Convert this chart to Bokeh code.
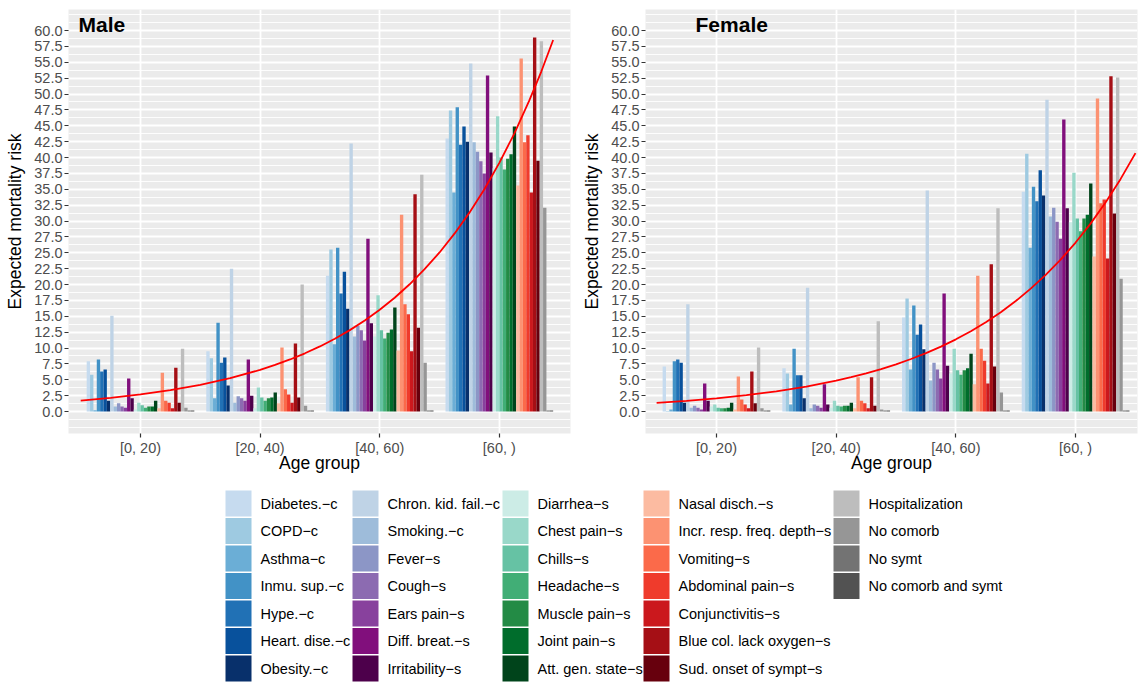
from bokeh.plotting import figure
from bokeh.models import FixedTicker, Range1d, ColumnDataSource
from bokeh.layouts import column, row
from bokeh.embed import file_html
from bokeh.resources import INLINE
from bokeh.core.properties import value

FONT = "Liberation Sans"

age_groups = ["[0, 20)", "[20, 40)", "[40, 60)", "[60, )"]

categories = [
    "Diabetes.−c", "COPD−c", "Asthma−c", "Inmu. sup.−c", "Hype.−c", "Heart. dise.−c", "Obesity.−c",
    "Chron. kid. fail.−c", "Smoking.−c", "Fever−s", "Cough−s", "Ears pain−s", "Diff. breat.−s", "Irritability−s",
    "Diarrhea−s", "Chest pain−s", "Chills−s", "Headache−s", "Muscle pain−s", "Joint pain−s", "Att. gen. state−s",
    "Nasal disch.−s", "Incr. resp. freq. depth−s", "Vomiting−s", "Abdominal pain−s", "Conjunctivitis−s",
    "Blue col. lack oxygen−s", "Sud. onset of sympt−s",
    "Hospitalization", "No comorb", "No symt", "No comorb and symt",
]

colors = [
    "#c6dbef", "#9ecae1", "#6baed6", "#4292c6", "#2171b5", "#08519c", "#08306b",
    "#bfd3e6", "#9ebcda", "#8c96c6", "#8c6bb1", "#88419d", "#810f7c", "#4d004b",
    "#ccece6", "#99d8c9", "#66c2a4", "#41ae76", "#238b45", "#006d2c", "#00441b",
    "#fcbba1", "#fc9272", "#fb6a4a", "#ef3b2c", "#cb181d", "#a50f15", "#67000d",
    "#bdbdbd", "#969696", "#737373", "#525252",
]

# Male expected mortality risk, one list per age group (order = categories)
male_0_20 = [7.9, 5.8, 0.2, 8.2, 6.3, 6.6, 1.7, 15.1, 0.8, 1.3, 0.8, 0.6, 5.2, 2.1,
             0.3, 1.4, 1.0, 0.6, 0.8, 0.8, 1.7, 0.5, 6.1, 1.7, 1.4, 0.5, 6.9, 1.4,
             9.9, 0.6, 0.15, 0.15]
male_20_40 = [9.5, 8.4, 2.1, 14.0, 7.7, 8.5, 4.1, 22.5, 1.4, 2.4, 2.1, 1.7, 8.2, 2.5,
              0.5, 3.8, 2.2, 1.7, 2.1, 2.2, 3.0, 1.3, 10.1, 3.5, 2.7, 1.4, 10.7, 2.2,
              20.0, 0.9, 0.15, 0.15]
male_40_60 = [21.4, 25.5, 10.6, 25.8, 18.6, 22.0, 16.2, 42.2, 11.8, 13.5, 12.8, 11.2, 27.2, 13.9,
              11.8, 18.3, 12.8, 11.5, 12.4, 12.9, 16.4, 9.6, 31.0, 16.9, 15.3, 9.5, 34.2, 13.2,
              37.3, 7.7, 0.15, 0.15]
male_60 = [43.0, 47.4, 34.5, 47.9, 42.0, 44.9, 42.5, 54.8, 42.4, 40.9, 39.4, 37.5, 52.9, 40.8,
           38.3, 46.5, 40.0, 38.1, 39.8, 40.5, 44.9, 35.6, 55.6, 42.4, 43.5, 34.5, 58.9, 39.5,
           58.3, 32.1, 0.15, 0.15]

# Female
female_0_20 = [7.1, 0.1, 0.3, 7.9, 8.2, 7.7, 1.4, 16.9, 0.6, 0.9, 0.6, 0.3, 4.4, 1.7,
               0.8, 1.1, 0.6, 0.5, 0.5, 0.6, 1.4, 0.3, 5.5, 1.9, 1.1, 0.5, 6.3, 1.3,
               10.1, 0.5, 0.15, 0.15]
female_20_40 = [6.8, 6.0, 1.1, 9.9, 5.7, 5.7, 2.1, 19.5, 0.5, 1.1, 0.9, 0.6, 4.3, 1.1,
                0.6, 1.7, 0.9, 0.8, 0.9, 0.9, 1.4, 0.5, 5.4, 1.7, 1.3, 0.5, 5.4, 0.9,
                14.2, 0.3, 0.15, 0.15]
female_40_60 = [14.8, 17.8, 6.6, 16.7, 12.1, 13.7, 9.8, 34.8, 4.9, 7.7, 6.6, 5.2, 18.6, 7.2,
                6.0, 9.9, 6.5, 5.8, 6.5, 6.8, 9.1, 4.3, 21.4, 9.9, 8.0, 4.4, 23.2, 7.1,
                32.0, 3.0, 0.15, 0.15]
female_60 = [34.6, 40.6, 25.8, 35.4, 33.1, 38.0, 34.0, 49.1, 30.7, 32.1, 29.9, 27.2, 46.0, 32.0,
             29.8, 37.6, 30.4, 28.4, 30.4, 31.0, 35.9, 24.4, 49.3, 32.8, 33.4, 24.1, 52.8, 31.2,
             52.6, 20.9, 0.15, 0.15]

# Red trend curves
male_curve_x = [0.5, 0.75, 1.0, 1.25, 1.5, 1.75, 2.0, 2.125, 2.25, 2.375, 2.5, 2.625, 2.75, 2.875,
                3.0, 3.125, 3.25, 3.375, 3.5, 3.625, 3.75, 3.875, 4.0, 4.125, 4.25, 4.35, 4.45]
male_curve = [1.72, 2.15, 2.69, 3.36, 4.20, 5.25, 6.56, 7.34, 8.20, 9.17, 10.25, 11.47, 12.82, 14.34,
              16.03, 17.92, 20.04, 22.41, 25.05, 28.01, 31.32, 35.01, 39.16, 43.77, 48.95, 53.5, 58.5]
female_curve_x = [0.5, 0.75, 1.0, 1.25, 1.5, 1.75, 2.0, 2.125, 2.25, 2.375, 2.5, 2.625, 2.75, 2.875,
                  3.0, 3.125, 3.25, 3.375, 3.5, 3.625, 3.75, 3.875, 4.0, 4.125, 4.25, 4.375, 4.5]
female_curve = [1.36, 1.68, 2.08, 2.57, 3.18, 3.93, 4.86, 5.41, 6.01, 6.69, 7.44, 8.27, 9.20, 10.23,
                11.37, 12.65, 14.07, 15.64, 17.40, 19.35, 21.52, 23.93, 26.61, 29.59, 32.91, 36.59, 40.70]

y_ticks = [i * 2.5 for i in range(25)]
y_minor = [-2.5, -1.25] + [1.25 + i * 2.5 for i in range(25)] + [62.5]

DODGE = 0.9
NB = len(categories)
BW = DODGE / NB
TOP_H = 482


def make_panel(groups_vals, title, cx, cy, title_x, x_start, x_end, width, border_right):
    xs, tops, cols = [], [], []
    for g, vals in enumerate(groups_vals):
        for i, v in enumerate(vals):
            xs.append(g + 1 - DODGE / 2 + (i + 0.5) * BW)
            tops.append(v)
            cols.append(colors[i])
    src = ColumnDataSource(dict(x=xs, top=tops, color=cols))
    p = figure(width=width, height=TOP_H, output_backend="svg", toolbar_location=None,
               x_range=Range1d(x_start, x_end), y_range=Range1d(-3.46, 63.31),
               min_border_left=68, min_border_right=border_right, min_border_top=9,
               min_border_bottom=TOP_H - 433)
    p.background_fill_color = "#EBEBEB"
    p.border_fill_color = "white"
    p.outline_line_color = None

    p.vbar(x="x", top="top", bottom=0, width=BW, fill_color="color", line_color=None, source=src)
    p.line(cx, cy, line_color="#FF0000", line_width=1.8)
    p.text(x=[title_x], y=[60.94], text=[title], text_font=value(FONT), text_font_style="bold",
           text_font_size="21px", text_color="black", text_align="left", text_baseline="alphabetic")

    # y axis
    p.yaxis.ticker = FixedTicker(ticks=y_ticks, minor_ticks=y_minor)
    p.yaxis.major_label_overrides = {t: f"{t:.1f}" for t in y_ticks}
    p.yaxis.axis_label = "Expected mortality risk"
    # x axis
    p.xaxis.ticker = FixedTicker(ticks=[1, 2, 3, 4], minor_ticks=[])
    p.xaxis.major_label_overrides = {i + 1: lab for i, lab in enumerate(age_groups)}
    p.xaxis.axis_label = "Age group"

    for ax in (p.xaxis, p.yaxis):
        ax.axis_line_color = None
        ax.major_tick_line_color = "#333333"
        ax.major_tick_line_width = 1.2
        ax.major_tick_in = 0
        ax.major_tick_out = 4
        ax.minor_tick_line_color = None
        ax.major_label_text_font = FONT
        ax.major_label_text_font_size = "14.5px"
        ax.major_label_text_color = "#4D4D4D"
        ax.major_label_standoff = 2
        ax.axis_label_text_font = FONT
        ax.axis_label_text_font_size = "17.5px"
        ax.axis_label_text_font_style = "normal"
        ax.axis_label_text_color = "black"
    p.yaxis.axis_label_standoff = 6
    p.xaxis.major_label_standoff = 2
    p.xaxis.axis_label_standoff = -6

    p.ygrid.grid_line_color = "white"
    p.ygrid.grid_line_width = 1.8
    p.ygrid.minor_grid_line_color = "white"
    p.ygrid.minor_grid_line_width = 0.9
    p.xgrid.grid_line_color = "white"
    p.xgrid.grid_line_width = 1.8
    return p


p_male = make_panel([male_0_20, male_20_40, male_40_60, male_60], "Male", male_curve_x, male_curve,
                    0.482, 0.398, 4.595, 577, 7)
p_female = make_panel([female_0_20, female_20_40, female_40_60, female_60], "Female",
                      female_curve_x, female_curve, 0.825, 0.407, 4.517, 563, 3)

# Legend (5 columns x 7 rows, filled column-wise)
LEG_H = 684 - TOP_H
leg = figure(width=1140, height=LEG_H, output_backend="svg", toolbar_location=None,
             x_range=Range1d(0, 1140), y_range=Range1d(LEG_H, 0),
             min_border_left=0, min_border_right=0, min_border_top=0, min_border_bottom=0,
             x_axis_location=None, y_axis_location=None)
leg.xgrid.visible = False
leg.ygrid.visible = False
leg.outline_line_color = None
leg.background_fill_color = "white"
leg.border_fill_color = "white"

col_left = [225, 352, 502, 643, 833]
ROWS = 7
ROW_STEP = 27.5
KEY = 26
TOP = 490 - TOP_H
kx, ky, tx, ty = [], [], [], []
for k, name in enumerate(categories):
    c, r = divmod(k, ROWS)
    kx.append(col_left[c] + KEY / 2)
    ky.append(TOP + r * ROW_STEP + KEY / 2)
    tx.append(col_left[c] + 35)
    ty.append(TOP + r * ROW_STEP + KEY / 2)
leg.rect(x=kx, y=ky, width=KEY, height=KEY, fill_color=colors, line_color=None)
leg.text(x=tx, y=ty, text=categories, text_font=value(FONT), text_font_size="14.5px",
         text_color="black", text_align="left", text_baseline="middle")

layout = column(row(p_male, p_female), leg)
open("out.html", "w").write(file_html(layout, INLINE))
